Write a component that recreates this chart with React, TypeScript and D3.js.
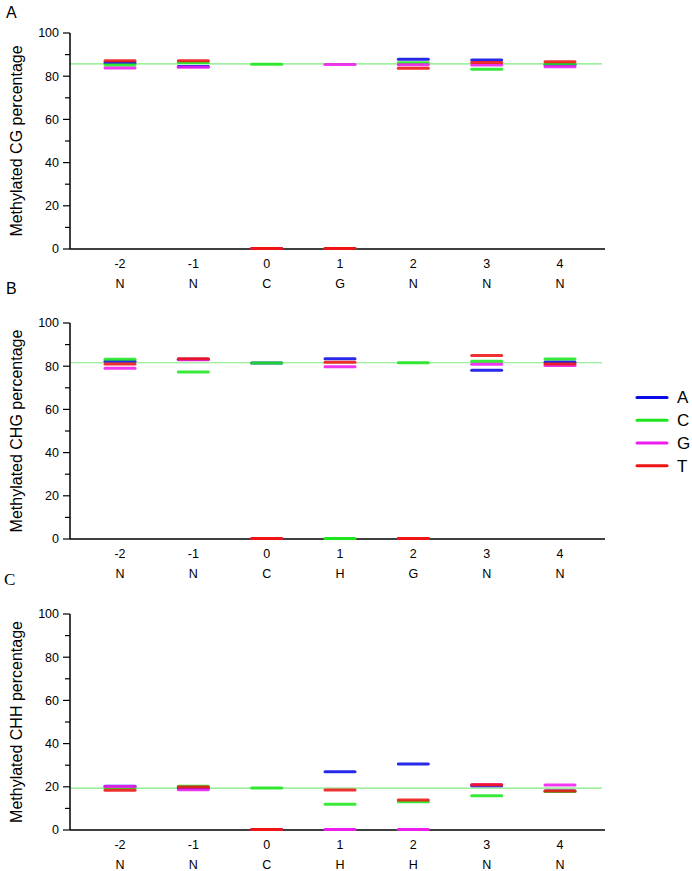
import React from "react";
import * as d3 from "d3";

const positions = [-2, -1, 0, 1, 2, 3, 4];
const nucleotides = ["A", "C", "G", "T"];
const colors = ["#0a0ae6", "#1ee61e", "#ee1cee", "#ee1414"];

const cgLabels = ["N", "N", "C", "G", "N", "N", "N"];
const cgA = [86.3, 84.5, 0, 0, 87.8, 87.5, 85.3];
const cgC = [85.2, 86.3, 85.5, 0, 86.2, 83.2, 85.6];
const cgG = [83.8, 84.2, 0, 85.4, 85.3, 85.2, 84.4];
const cgT = [87.2, 87.2, 0, 0, 83.7, 86.3, 86.7];
const cgMean = 85.7;

const chgLabels = ["N", "N", "C", "H", "G", "N", "N"];
const chgA = [82.3, 83.2, 81.5, 83.5, 0, 78.1, 81.9];
const chgC = [83.2, 77.3, 81.5, 0, 81.6, 82.3, 83.3];
const chgG = [79.0, 83.0, 0, 79.8, 0, 80.9, 80.3];
const chgT = [81.0, 83.4, 0, 81.8, 0, 84.9, 81.0];
const chgMean = 81.6;

const chhLabels = ["N", "N", "C", "H", "H", "N", "N"];
const chhA = [20.3, 19.5, 0, 27.0, 30.6, 20.5, 18.0];
const chhC = [19.3, 20.2, 19.4, 11.9, 13.1, 15.9, 17.8];
const chhG = [20.1, 18.6, 0, 0, 0, 21.0, 20.8];
const chhT = [18.4, 19.9, 0, 18.5, 13.9, 21.0, 18.0];
const chhMean = 19.4;

const yTicks = [0, 20, 40, 60, 80, 100];
const yMinor = [10, 30, 50, 70, 90];

type PanelProps = {
  top: number;
  letter: string;
  letterY: number;
  letterSerif?: boolean;
  title: string;
  labels: string[];
  series: number[][];
  mean: number;
};

const x = d3.scaleLinear().domain([-2, 4]).range([120, 560]);
const sans = "Liberation Sans, Arial, sans-serif";

function Panel({ top, letter, letterY, letterSerif, title, labels, series, mean }: PanelProps) {
  const y = d3.scaleLinear().domain([0, 100]).range([top + 216, top]);
  const x0 = 70;
  const x1 = 605;
  const halfW = 15;
  return (
    <g>
      <text
        x={letterSerif ? 4 : 6}
        y={letterY}
        fontSize={letterSerif ? 17 : 16}
        fontFamily={letterSerif ? "Liberation Serif, serif" : sans}
      >
        {letter}
      </text>
      <text
        transform={`translate(22,${top + 108}) rotate(-90)`}
        textAnchor="middle"
        fontSize={16}
        fontFamily={sans}
      >
        {title}
      </text>
      <line x1={x0} x2={602} y1={y(mean)} y2={y(mean)} stroke="#7eea7e" strokeWidth={1.2} />
      <line x1={x0} x2={x0} y1={top} y2={y(0)} stroke="#000" strokeWidth={1.5} />
      <line x1={x0} x2={x1} y1={y(0)} y2={y(0)} stroke="#000" strokeWidth={1.5} />
      {series.map((vals, si) =>
        vals.map((v, i) => (
          <line
            key={`${si}-${i}`}
            x1={x(positions[i]) - halfW}
            x2={x(positions[i]) + halfW}
            y1={y(v) - (v === 0 ? 0.5 : 0)}
            y2={y(v) - (v === 0 ? 0.5 : 0)}
            stroke={colors[si]}
            strokeWidth={3}
            strokeOpacity={v === 0 ? 1 : 0.88}
            strokeLinecap="round"
          />
        ))
      )}
      {yTicks.map((t) => (
        <g key={t}>
          <line x1={x0 - 7} x2={x0} y1={y(t)} y2={y(t)} stroke="#000" strokeWidth={1.2} />
          <text x={x0 - 11} y={y(t)} dy="0.35em" textAnchor="end" fontSize={12.5} fontFamily={sans}>
            {t}
          </text>
        </g>
      ))}
      {yMinor.map((t) => (
        <line key={t} x1={x0 - 5} x2={x0} y1={y(t)} y2={y(t)} stroke="#000" strokeWidth={1.2} />
      ))}
      {positions.map((p, i) => (
        <g key={p}>
          <text x={x(p)} y={y(0) + 15} dy="0.35em" textAnchor="middle" fontSize={12.5} fontFamily={sans}>
            {p}
          </text>
          <text x={x(p)} y={y(0) + 35} dy="0.35em" textAnchor="middle" fontSize={12.5} fontFamily={sans}>
            {labels[i]}
          </text>
        </g>
      ))}
    </g>
  );
}

export default function App() {
  const legendY = d3.scaleBand<string>().domain(nucleotides).range([386, 477]);
  return (
    <svg width={692} height={871} style={{ position: "absolute", left: 0, top: 0, background: "#fff" }}>
      <rect width={692} height={871} fill="#fff" />
      <Panel
        top={33}
        letter="A"
        letterY={18}
        title="Methylated CG percentage"
        labels={cgLabels}
        series={[cgA, cgC, cgG, cgT]}
        mean={cgMean}
      />
      <Panel
        top={323}
        letter="B"
        letterY={294}
        title="Methylated CHG percentage"
        labels={chgLabels}
        series={[chgA, chgC, chgG, chgT]}
        mean={chgMean}
      />
      <Panel
        top={614}
        letter="C"
        letterY={585}
        letterSerif
        title="Methylated CHH percentage"
        labels={chhLabels}
        series={[chhA, chhC, chhG, chhT]}
        mean={chhMean}
      />
      {nucleotides.map((n, i) => {
        const yy = (legendY(n) as number) + legendY.bandwidth() / 2;
        return (
          <g key={n}>
            <line x1={637} x2={667} y1={yy} y2={yy} stroke={colors[i]} strokeWidth={3} strokeLinecap="round" />
            <text x={677} y={yy} dy="0.35em" fontSize={17} fontFamily={sans}>
              {n}
            </text>
          </g>
        );
      })}
    </svg>
  );
}
